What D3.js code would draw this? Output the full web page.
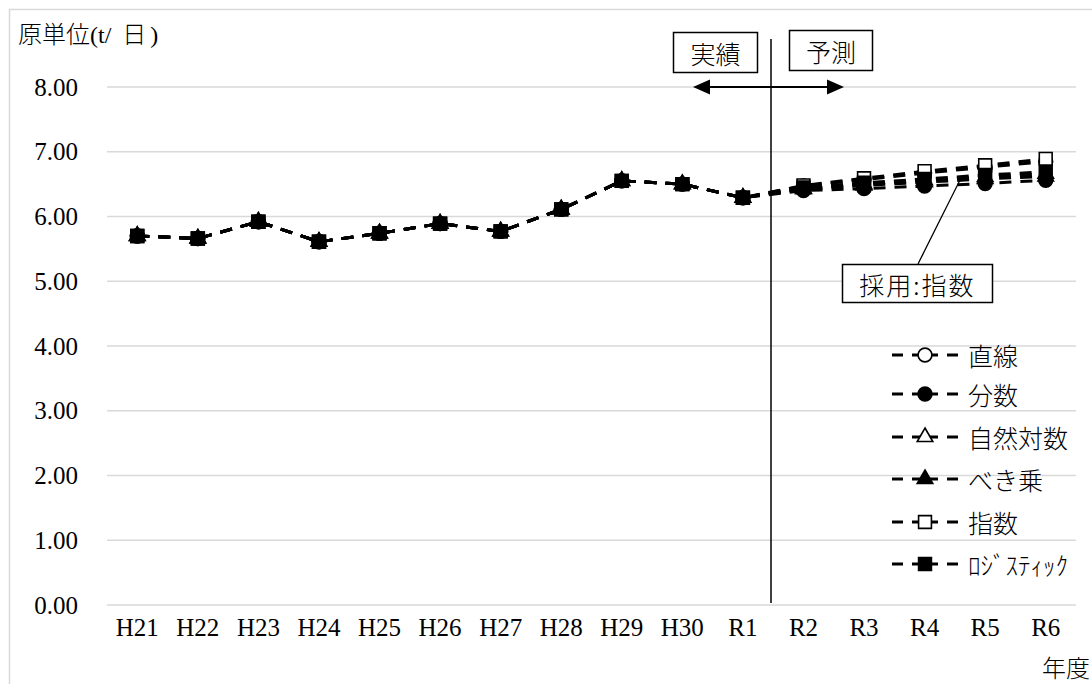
<!DOCTYPE html>
<html><head><meta charset="utf-8">
<script src="https://cdn.jsdelivr.net/npm/d3@7"></script>
<style>
html,body{margin:0;padding:0;background:#fff;}
svg{display:block;}
text{fill:#000;}
</style></head>
<body>
<svg id="c" width="1092" height="684"></svg>
<script>
// ---- data ----
const categories = ["H21","H22","H23","H24","H25","H26","H27","H28","H29","H30","R1","R2","R3","R4","R5","R6"];
const actual = [5.70,5.66,5.92,5.61,5.74,5.89,5.77,6.11,6.55,6.50,6.29];
const seriesNames = ["直線","分数","自然対数","べき乗","指数","ﾛｼﾞｽﾃｨｯｸ"];
const fcLinear      = [6.47,6.57,6.67,6.76,6.85];
const fcFraction    = [6.40,6.43,6.47,6.51,6.56];
const fcLog         = [6.43,6.50,6.56,6.61,6.66];
const fcPower       = [6.42,6.48,6.53,6.58,6.62];
const fcExp         = [6.48,6.59,6.70,6.79,6.89];
const fcLogistic    = [6.45,6.52,6.58,6.64,6.69];
const forecasts = [fcLinear, fcFraction, fcLog, fcPower, fcExp, fcLogistic];
const yTicks = [0,1,2,3,4,5,6,7,8];
const markerTypes = ["circle-open","circle","triangle-open","triangle","square-open","square"];

// ---- chart ----
const svg = d3.select("#c");
const x = d3.scaleBand().domain(categories).range([107,1076]);
const y = d3.scaleLinear().domain([0,8]).range([605,87]);
const cx = c => x(c) + x.bandwidth()/2;
const NUMF = "Liberation Serif, Tinos, Times New Roman, DejaVu Serif, serif, Noto Sans CJK JP";
const JPF = "Noto Sans CJK JP, sans-serif";

// outer border
svg.append("rect").attr("x",9.5).attr("y",9.5).attr("width",1200).attr("height",800)
  .attr("fill","none").attr("stroke","#d9d9d9").attr("stroke-width",1.5);

// gridlines
svg.append("g").selectAll("line").data(yTicks).join("line")
  .attr("x1",107).attr("x2",1076).attr("y1",d=>y(d)).attr("y2",d=>y(d))
  .attr("stroke","#d9d9d9").attr("stroke-width",1.5);

// y axis labels
const yAxis = d3.axisLeft(y).tickValues(yTicks).tickFormat(d3.format(".2f")).tickSize(0).tickPadding(0);
const gy = svg.append("g").attr("transform","translate(78,0)").call(yAxis)
  .attr("font-family",NUMF).attr("font-size",25);
gy.select(".domain").remove();
gy.selectAll("text").style("font-family",NUMF).style("font-size","25px").attr("fill","#000");

// x axis labels
const xAxis = d3.axisBottom(x).tickSize(0).tickPadding(0);
const gx = svg.append("g").attr("transform","translate(0,618)").call(xAxis)
  .attr("font-family",NUMF).attr("font-size",25);
gx.select(".domain").remove();
gx.selectAll("text").style("font-family",NUMF).style("font-size","25px").attr("fill","#000");

// axis titles
const tt = svg.append("text").attr("x",18).attr("y",43).style("font-family",NUMF).style("font-size","24px");
tt.append("tspan").style("font-family",JPF).style("font-weight",300).text("原単位");
tt.append("tspan").text("(t/");
tt.append("tspan").attr("dx",11).style("font-family",JPF).style("font-weight",300).text("日");
tt.append("tspan").attr("dx",4).text(")");
svg.append("text").attr("x",1090).attr("y",677).attr("text-anchor","end").style("font-family",JPF)
  .style("font-size","24px").style("font-weight",300).text("年度");

// divider line
svg.append("line").attr("x1",771).attr("x2",771).attr("y1",39).attr("y2",603)
  .attr("stroke","#000").attr("stroke-width",1.5);

// marker drawing
function marker(g, type, px, py){
  let sym, fill = type.endsWith("open") ? "#fff" : "#000";
  if (type.startsWith("circle")) sym = d3.symbol(d3.symbolCircle, 150);
  else if (type.startsWith("triangle")) sym = d3.symbol(d3.symbolTriangle, 105);
  else sym = d3.symbol(d3.symbolSquare, 165);
  g.append("path").attr("d",sym()).attr("transform",`translate(${px},${py})`)
    .attr("fill",fill).attr("stroke","#000").attr("stroke-width",1.6);
}

// series
const line = d3.line().x(d=>cx(d.c)).y(d=>y(d.v));
const plot = svg.append("g");
forecasts.forEach((fc,i)=>{
  const vals = actual.concat(fc);
  const data = categories.map((c,j)=>({c, v: vals[j]}));
  const g = plot.append("g");
  g.append("path").datum(data).attr("d",line).attr("fill","none")
    .attr("stroke","#000").attr("stroke-width",3).attr("stroke-dasharray","12,9");
  data.forEach(d=>marker(g, markerTypes[i], cx(d.c), y(d.v)));
});

// annotation boxes
function box(x0,y0,w,h,label,ls){
  svg.append("rect").attr("x",x0).attr("y",y0).attr("width",w).attr("height",h)
    .attr("fill","#fff").attr("stroke","#000").attr("stroke-width",1.5);
  svg.append("text").attr("x",x0+w/2).attr("y",y0+h/2).attr("text-anchor","middle")
    .attr("dominant-baseline","central").style("font-family",JPF).style("font-size","25px")
    .style("letter-spacing",(ls||0)+"px").style("font-weight",300).text(label);
}
box(673.5,32.5,84,40,"実績");
box(789.5,30.5,83,40,"予測");

// double arrow
svg.append("line").attr("x1",705).attr("x2",832).attr("y1",87).attr("y2",87)
  .attr("stroke","#000").attr("stroke-width",2.2);
svg.append("path").attr("d","M693,87 L710,79.5 L710,94.5 Z").attr("fill","#000");
svg.append("path").attr("d","M844,87 L827,79.5 L827,94.5 Z").attr("fill","#000");

// callout
svg.append("line").attr("x1",918).attr("y1",264).attr("x2",960).attr("y2",180)
  .attr("stroke","#000").attr("stroke-width",1.3);
box(842.5,264.5,150,38,"採用:指数",2);

// legend
const legY = [355,394,437,479,522,564];
seriesNames.forEach((n,i)=>{
  const g = svg.append("g");
  const ly = legY[i];
  g.append("line").attr("x1",892).attr("x2",925).attr("y1",ly).attr("y2",ly)
    .attr("stroke","#000").attr("stroke-width",3).attr("stroke-dasharray","11,9");
  g.append("line").attr("x1",958).attr("x2",925).attr("y1",ly).attr("y2",ly)
    .attr("stroke","#000").attr("stroke-width",3).attr("stroke-dasharray","11,9");
  marker(g, markerTypes[i], 925, ly);
  g.append("text").attr("x",968).attr("y",ly).attr("dominant-baseline","central")
    .style("font-family",JPF).style("font-size","25px").style("font-weight",300).text(n);
});
</script>
</body></html>
